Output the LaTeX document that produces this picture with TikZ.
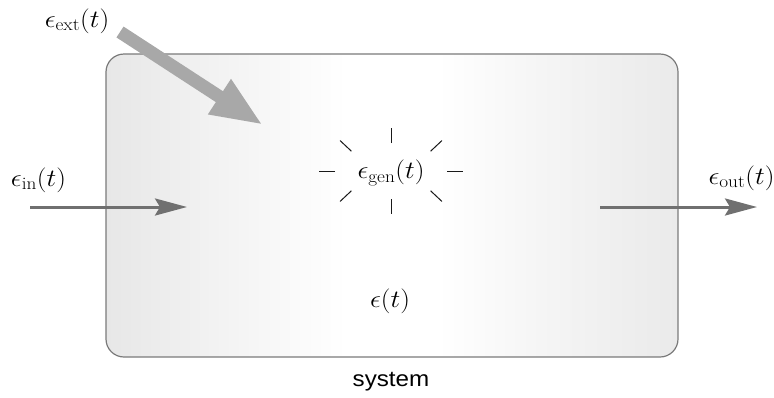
\documentclass[tikz,border=0pt]{standalone}
\usepackage{fontspec}
\setsansfont{Liberation Sans}
\usetikzlibrary{arrows.meta}
\definecolor{flowgray}{HTML}{707070}
\definecolor{extgray}{HTML}{A8A8A8}
\definecolor{edgegray}{HTML}{7A7A7A}
\definecolor{shL}{HTML}{E7E7E7}
\definecolor{shM}{HTML}{F5F5F5}
\definecolor{shR}{HTML}{EAEAEA}
% light grey at both sides, white across the middle
\pgfdeclarehorizontalshading{sysshade}{100bp}{color(0bp)=(shL); color(25bp)=(shL);
  color(37bp)=(shM); color(46bp)=(white); color(54bp)=(white);
  color(63bp)=(shM); color(75bp)=(shR); color(100bp)=(shR)}
\newcommand{\widetext}[1]{\scalebox{1.1}[1]{#1}}
% upright subscript set at a fixed, fairly large size
\newcommand{\subtext}[1]{\hbox{\fontsize{17.5}{20}\selectfont #1}}
\begin{document}
\begin{tikzpicture}[x=1pt,y=-1pt,
  lbl/.style={inner sep=0pt, font=\fontsize{23}{27}\selectfont},
  caption/.style={inner sep=0pt, font=\sffamily\fontsize{22}{26}\selectfont},
  sysbox/.style={draw=edgegray, line width=1.2pt, rounded corners=18pt,
    minimum width=572pt, minimum height=303pt, inner sep=0pt,
    shading=sysshade},
  flow/.style={draw=flowgray, line width=3pt,
    -{Stealth[length=32pt,width=17pt,inset=5pt]}},
  extflow/.style={draw=extgray, line width=13pt,
    -{Triangle[length=52pt,width=38pt]}},
  ray/.style={draw=black!90, line width=1pt}]
\useasboundingbox (0,0) rectangle (774,397);

% the system box with its horizontal shading
\node[sysbox] (sys) at (392,205.5) {};

% stored energy and caption
\node[lbl] (stored) at (390,301) {\widetext{$\epsilon(t)$}};
\node[caption] (cap) at (391,382) {\scalebox{1.1}[1]{system}};

% generation term with its burst of rays
\node[lbl] (gen) at (391,173) {\widetext{$\epsilon_{\subtext{gen}}(t)$}};
\coordinate (genc) at (391,171);
\foreach \a in {0,45,...,315}
  \draw[ray, shift={(genc)}] ({56*cos(\a)},{28*sin(\a)}) -- ({72*cos(\a)},{43*sin(\a)});

% inflow and outflow
\node[lbl] (in) at (38.5,180) {\widetext{$\epsilon_{\subtext{in}}(t)$}};
\coordinate (inA) at (30,207);
\coordinate (inB) at (187,207);
\draw[flow] (inA) -- (inB);

\node[lbl] (out) at (741.5,178) {\widetext{$\epsilon_{\subtext{out}}(t)$}};
\coordinate (outA) at (600,207);
\coordinate (outB) at (757,207);
\draw[flow] (outA) -- (outB);

% external supply, drawn over the box edge
\node[lbl] (ext) at (77,21) {\widetext{$\epsilon_{\subtext{ext}}(t)$}};
\coordinate (extA) at (120,32);
\coordinate (extB) at (263,125);
\draw[extflow] (extA) -- (extB);
\end{tikzpicture}
\end{document}
